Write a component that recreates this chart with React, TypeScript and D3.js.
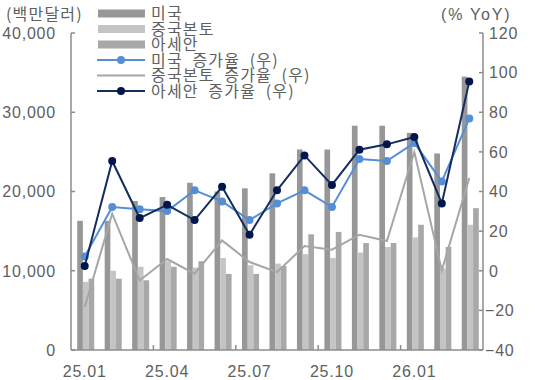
import React from "react";
import * as d3 from "d3";

const categories = ["25.01","25.02","25.03","25.04","25.05","25.06","25.07","25.08","25.09","25.10","25.11","25.12","26.01","26.02","26.03"];
const xTickLabels = ["25.01","25.04","25.07","25.10","26.01"];

const usExports = [16300,16300,18800,19300,21100,20000,20400,22300,25300,25300,28300,28300,27400,24800,34500];
const chinaExports = [8600,10000,10500,11200,10400,11600,10700,10900,12100,11600,12300,13000,14200,10300,15800];
const aseanExports = [9000,9000,8800,10500,11200,9600,9600,10600,14600,14900,13500,13500,15800,13000,17900];

const usGrowth = [7.2,32.2,31.1,30.1,40.6,35.0,25.6,34.0,40.6,32.2,56.4,55.4,64.5,45.1,76.8];
const chinaGrowth = [-18.3,28.8,-4.9,5.9,-1.5,15.3,4.4,-0.7,12.5,10.6,18.2,15.0,59.9,0.2,46.8];
const aseanGrowth = [2.4,55.4,26.6,33.3,25.6,42.4,18.2,40.6,58.2,43.3,61.1,63.8,67.5,34.0,95.5];

const leftTicks = [0,10000,20000,30000,40000];
const rightTicks = [-40,-20,0,20,40,60,80,100,120];

const barSeries = [
  { name: "미국", values: usExports, color: "#979797" },
  { name: "중국본토", values: chinaExports, color: "#c4c4c4" },
  { name: "아세안", values: aseanExports, color: "#a8a8a8" },
];
const lineSeries = [
  { name: "미국 증가율 (우)", values: usGrowth, color: "#558ed5", marker: true },
  { name: "중국본토 증가율 (우)", values: chinaGrowth, color: "#a6a6a6", marker: false },
  { name: "아세안 증가율 (우)", values: aseanGrowth, color: "#132d5e", markerColor: "#02164d", marker: true },
];

const W = 535, H = 380;
const L = 71, R = 483, T = 33, B = 350;
const FONT = "'Liberation Sans', Arial, sans-serif";
const KFONT = "'Noto Sans CJK KR', sans-serif";
const TXT = "#606060";
const AX = "#8c8c8c";

export default function App() {
  const x = d3.scaleBand<string>().domain(categories).range([L, R]).paddingInner(0).paddingOuter(0);
  const bw = x.bandwidth();
  const inner = d3.scaleBand<number>().domain([0, 1, 2]).range([0, bw * 0.62]);
  const groupOffset = (bw - bw * 0.62) / 2 + 1;
  const yL = d3.scaleLinear().domain([0, 40000]).range([B, T]);
  const yR = d3.scaleLinear().domain([-40, 120]).range([B, T]);
  const fmt = d3.format(",");
  const cx = (c: string) => (x(c) as number) + bw / 2;
  const lineGen = (vals: number[]) =>
    d3.line<number>().x((_, i) => cx(categories[i])).y((v) => yR(v))(vals) as string;

  const legendRows = [13.5, 29, 44.5, 60, 75.5, 91];

  return (
    <div style={{ position: "fixed", left: 0, top: 0 }}>
      <svg width={W} height={H} style={{ display: "block", background: "#fff" }}>
        {/* bars */}
        {barSeries.map((s, si) => (
          <g key={s.name}>
            {s.values.map((v, i) => (
              <rect
                key={i}
                x={(x(categories[i]) as number) + groupOffset + (inner(si) as number)}
                y={yL(v)}
                width={inner.bandwidth()}
                height={B - yL(v)}
                fill={s.color}
              />
            ))}
          </g>
        ))}
        {/* lines */}
        {lineSeries.map((s) => (
          <g key={s.name}>
            <path d={lineGen(s.values)} fill="none" stroke={s.color} strokeWidth={2} />
            {s.marker &&
              s.values.map((v, i) => (
                <circle key={i} cx={cx(categories[i])} cy={yR(v)} r={4} fill={(s as any).markerColor || s.color} />
              ))}
          </g>
        ))}
        {/* axes */}
        <line x1={L} x2={L} y1={T} y2={B} stroke={AX} strokeWidth={1.5} />
        <line x1={R} x2={R} y1={T} y2={B} stroke={AX} strokeWidth={1.5} />
        <line x1={L} x2={R} y1={B} y2={B} stroke={AX} strokeWidth={1.5} />
        {leftTicks.map((t) => (
          <g key={"l" + t}>
            <line x1={L} x2={L + 4} y1={yL(t)} y2={yL(t)} stroke={AX} strokeWidth={1.5} />
            <text x={56} y={yL(t)} dy="0.36em" textAnchor="end" fontFamily={FONT} fontSize={16} fill={TXT} letterSpacing={0.8}>
              {fmt(t)}
            </text>
          </g>
        ))}
        {rightTicks.map((t) => (
          <g key={"r" + t}>
            <line x1={R - 4} x2={R} y1={yR(t)} y2={yR(t)} stroke={AX} strokeWidth={1.5} />
            <text x={t < 0 ? 485 : 489} y={yR(t)} dy="0.36em" textAnchor="start" fontFamily={FONT} fontSize={16} fill={TXT} letterSpacing={0.8}>
              {t < 0 ? "\u2212" + Math.abs(t) : String(t)}
            </text>
          </g>
        ))}
        {categories.map((c, i) =>
          i > 0 && i % 3 === 0 ? (
            <line key={"xt" + c} x1={x(c) as number} x2={x(c) as number} y1={B} y2={B - 5} stroke={AX} strokeWidth={1.5} />
          ) : null
        )}
        {xTickLabels.map((c) => (
          <text key={"xl" + c} x={cx(c)} y={377} textAnchor="middle" fontFamily={FONT} fontSize={16} fill={TXT} letterSpacing={0.8}>
            {c}
          </text>
        ))}
        {/* axis titles */}
        <text x={6} y={20} fontFamily={KFONT} fontSize={16} fill={TXT} letterSpacing={1.2}>(백만달러)</text>
        <text x={441} y={20} fontFamily={FONT} fontSize={16} fill={TXT} letterSpacing={1.8}>(% YoY)</text>
        {/* legend */}
        {barSeries.map((s, i) => (
          <g key={"lg" + i}>
            <rect x={98} y={legendRows[i] - 4} width={47} height={8} fill={s.color} />
            <text x={151} y={legendRows[i]} dy="0.35em" fontFamily={KFONT} fontSize={16} fill={TXT} letterSpacing={1.2}>{s.name}</text>
          </g>
        ))}
        {lineSeries.map((s, i) => (
          <g key={"ll" + i}>
            <line x1={97} x2={145} y1={legendRows[i + 3]} y2={legendRows[i + 3]} stroke={s.color} strokeWidth={2} />
            {s.marker && <circle cx={121} cy={legendRows[i + 3]} r={4} fill={(s as any).markerColor || s.color} />}
            <text x={151} y={legendRows[i + 3]} dy="0.35em" fontFamily={KFONT} fontSize={16} fill={TXT} letterSpacing={1.2} style={{ whiteSpace: "pre" }}>
              {s.name.replace(/ /g, "  ")}
            </text>
          </g>
        ))}
      </svg>
    </div>
  );
}
